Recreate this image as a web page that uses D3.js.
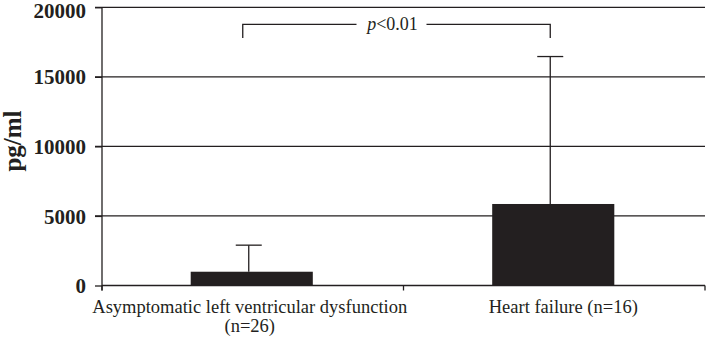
<!DOCTYPE html>
<html>
<head>
<meta charset="utf-8">
<script src="https://cdn.jsdelivr.net/npm/d3@7"></script>
<style>
  html, body { margin: 0; padding: 0; background: #fff; }
  svg { display: block; }
</style>
</head>
<body>
<svg id="chart" width="706" height="341"></svg>
<script>
const categories = ["Asymptomatic left ventricular dysfunction|(n=26)", "Heart failure (n=16)"];
const means = [990, 5860];
const upperErrors = [2900, 16460];
const yTicks = [0, 5000, 10000, 15000, 20000];
const yLabel = "pg/ml";
const sigText = ["p", "<0.01"];

const ink = "#231f20";
const svg = d3.select("#chart");
const x0 = 102, x1 = 705, yBottom = 285.5, yTop = 7.3;

const x = d3.scaleBand().domain(categories).range([x0, x1]).paddingInner(0).paddingOuter(0);
const y = d3.scaleLinear().domain([0, 20000]).range([yBottom, yTop]);
const barW = x.bandwidth() * 0.405;

// gridlines
svg.append("g").selectAll("line").data(yTicks.filter(d => d > 0)).join("line")
  .attr("x1", x0 - 7).attr("x2", x1)
  .attr("y1", d => y(d)).attr("y2", d => y(d))
  .attr("stroke", ink).attr("stroke-width", 1.3);

// y axis
const yAxis = svg.append("g").attr("transform", `translate(${x0},0)`)
  .call(d3.axisLeft(y).tickValues(yTicks).tickSize(7).tickPadding(9).tickFormat(d3.format("d")));
yAxis.select(".domain").remove();
yAxis.selectAll(".tick line").attr("stroke", ink).attr("stroke-width", 1.3);
yAxis.selectAll(".tick text")
  .attr("font-family", "'Liberation Serif', 'Times New Roman', serif")
  .attr("font-weight", "bold").attr("font-size", 21).attr("fill", ink)
  .attr("dy", d => d === 20000 ? "0.48em" : "0.34em");
svg.append("line").attr("x1", x0).attr("x2", x0).attr("y1", yTop).attr("y2", yBottom + 5)
  .attr("stroke", ink).attr("stroke-width", 1.3);

// bars
svg.append("g").selectAll("rect").data(categories).join("rect")
  .attr("x", d => x(d) + x.bandwidth() / 2 - barW / 2 - 1)
  .attr("width", barW)
  .attr("y", (d, i) => y(means[i]))
  .attr("height", (d, i) => y(0) - y(means[i]))
  .attr("fill", ink);

// error bars
const eb = svg.append("g");
categories.forEach((c, i) => {
  const cx = x(c) + x.bandwidth() / 2 - 4;
  eb.append("line").attr("x1", cx).attr("x2", cx).attr("y1", y(means[i])).attr("y2", y(upperErrors[i]))
    .attr("stroke", ink).attr("stroke-width", 1.3);
  eb.append("line").attr("x1", cx - 13).attr("x2", cx + 13).attr("y1", y(upperErrors[i])).attr("y2", y(upperErrors[i]))
    .attr("stroke", ink).attr("stroke-width", 1.3);
});

// x axis
svg.append("line").attr("x1", x0).attr("x2", x1).attr("y1", yBottom).attr("y2", yBottom)
  .attr("stroke", ink).attr("stroke-width", 1.3);
const bounds = [x0, ...categories.map(c => x(c) + x.bandwidth())];
svg.append("g").selectAll("line").data(bounds).join("line")
  .attr("x1", d => d).attr("x2", d => d).attr("y1", yBottom).attr("y2", yBottom + 5)
  .attr("stroke", ink).attr("stroke-width", 1.3);

// x labels
const xl = svg.append("g")
  .attr("font-family", "'Liberation Serif', 'Times New Roman', serif")
  .attr("font-size", 18.5).attr("fill", ink).attr("text-anchor", "middle");
categories.forEach((c, i) => {
  const lines = c.split("|");
  const cx = x(c) + x.bandwidth() / 2 + (i === 0 ? -3 : 9);
  lines.forEach((t, j) => {
    xl.append("text").attr("x", cx).attr("y", 313 + j * 19).text(t);
  });
});

// y label
svg.append("text")
  .attr("transform", `translate(21,141) rotate(-90)`)
  .attr("text-anchor", "middle")
  .attr("font-family", "'Liberation Serif', 'Times New Roman', serif")
  .attr("font-weight", "bold").attr("font-size", 25).attr("fill", ink)
  .text(yLabel);

// significance bracket
const bx1 = x(categories[0]) + x.bandwidth() / 2 - 10;
const bx2 = x(categories[1]) + x.bandwidth() / 2 - 4;
const by = 24.3, bd = 38;
const bmid = (bx1 + bx2) / 2;
const gap = 34;
const br = svg.append("g").attr("stroke", ink).attr("stroke-width", 1.3).attr("fill", "none");
br.append("path").attr("d", `M${bx1},${bd}V${by}H${bmid - gap - 6}`);
br.append("path").attr("d", `M${bmid + gap - 4},${by}H${bx2}V${bd}`);
const st = svg.append("text").attr("x", bmid - 4).attr("y", 29.5).attr("text-anchor", "middle")
  .attr("font-family", "'Liberation Serif', 'Times New Roman', serif")
  .attr("font-size", 18).attr("fill", ink);
st.append("tspan").attr("font-style", "italic").text(sigText[0]);
st.append("tspan").text(sigText[1]);
</script>
</body>
</html>
